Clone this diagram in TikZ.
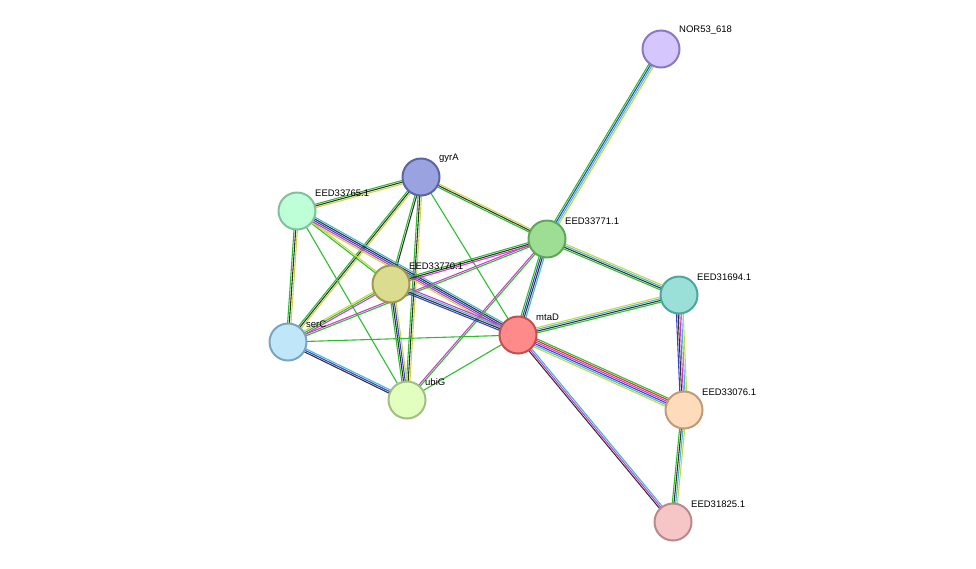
\documentclass[tikz,border=0pt]{standalone}
\usepackage{fontspec}
\setmainfont{Liberation Sans}
\usetikzlibrary{calc,backgrounds}
\definecolor{cg}{HTML}{2DBE2D}
\definecolor{ck}{HTML}{333333}
\definecolor{cy}{HTML}{C8D840}
\definecolor{cc}{HTML}{40B8D8}
\definecolor{cb}{HTML}{3344CC}
\definecolor{cm}{HTML}{D03AD0}
\definecolor{cr}{HTML}{E03030}
\newcommand\edg[4]{%
  \foreach \cl [count=\i] in {#4}{%
    \pgfmathsetmacro\off{(\i-1-(#3-1)/2)*1.7}
    \draw[draw=\cl,line width=1.1pt] ($(#1.center)!\off pt!90:(#2.center)$) -- ($(#2.center)!\off pt!-90:(#1.center)$);
  }}
\tikzset{nd/.style={circle,minimum size=37pt,inner sep=0pt,line width=2pt},
  lb/.style={font=\fontsize{9.5}{11}\selectfont,anchor=south west,inner sep=0pt}}
\begin{document}
\begin{tikzpicture}[x=1pt,y=-1pt]
\useasboundingbox (0,0) rectangle (976,568);
\def\N#1#2#3#4#5#6{\definecolor{f#1}{HTML}{#4}\definecolor{s#1}{HTML}{#5}%
  \node[nd,fill=f#1,draw=s#1] (#1) at (#2,#3) {};
  \node[lb] (#1l) at (#2+18,#3-14) {#6};}
\N{nor}{661}{49}{D6C6FE}{8A78C4}{NOR53\_618}
\N{gyr}{421}{177}{9AA3E0}{5A65A8}{gyrA}
\N{e65}{297}{211}{BFFFD8}{80C09A}{EED33765.1}
\N{e71}{547}{239}{9EDE94}{5EA657}{EED33771.1}
\N{e70}{391}{284}{DCDC90}{9A9A50}{EED33770.1}
\N{e94}{679}{295}{9ADFD8}{4DA59C}{EED31694.1}
\N{ser}{288}{342}{C0E6FA}{7AA5C2}{serC}
\N{mta}{518}{335}{FF8A8A}{C24F4F}{mtaD}
\N{ubi}{407}{400}{E2FFC0}{A0C083}{ubiG}
\N{e76}{684}{410}{FEDBBB}{C09A78}{EED33076.1}
\N{e25}{673}{522}{F6C6C6}{B88A8A}{EED31825.1}
\begin{pgfonlayer}{background}
\edg{nor}{e71}{4}{cg,cb,cc,cy}
\edg{gyr}{e65}{3}{cg,ck,cy}
\edg{gyr}{e71}{3}{cg,ck,cy}
\edg{gyr}{e70}{2}{cg,ck}
\edg{gyr}{ser}{3}{cg,ck,cy}
\edg{gyr}{ubi}{3}{cg,ck,cy}
\edg{gyr}{mta}{1}{cg}
\edg{e65}{e70}{2}{cg,cy}
\edg{e65}{ser}{3}{cg,ck,cy}
\edg{e65}{ubi}{1}{cg}
\edg{e65}{mta}{5}{cy,cm,cb,ck,cc}
\edg{e71}{e70}{3}{cg,ck,cm}
\edg{e71}{ser}{2}{cm,cg}
\edg{e71}{ubi}{2}{cm,cg}
\edg{e71}{mta}{4}{cg,cb,ck,cc}
\edg{e71}{e94}{4}{cg,ck,cc,cy}
\edg{e70}{ser}{3}{cy,cg,cm}
\edg{e70}{ubi}{4}{cg,ck,cb,cy}
\edg{e70}{mta}{4}{cb,ck,cc,cm}
\edg{ser}{ubi}{3}{ck,cb,cc}
\edg{ser}{mta}{1}{cg}
\edg{ubi}{mta}{1}{cg}
\edg{mta}{e94}{4}{cg,ck,cc,cy}
\edg{mta}{e76}{6}{cy,cc,cb,cm,cr,cg}
\edg{mta}{e25}{3}{ck,cm,cc}
\edg{e94}{e76}{5}{cb,ck,cm,cc,cy}
\edg{e76}{e25}{4}{cg,ck,cc,cy}
\end{pgfonlayer}
\end{tikzpicture}
\end{document}
